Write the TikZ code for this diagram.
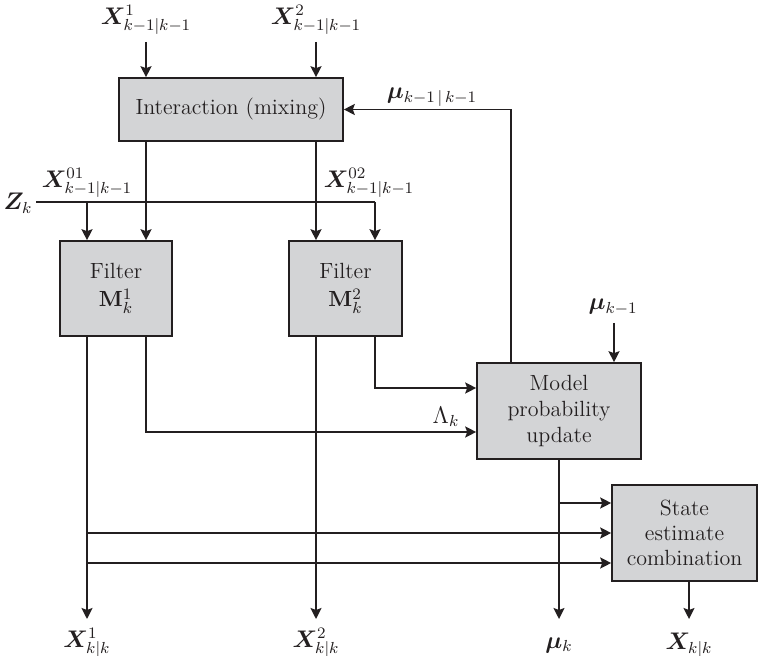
\documentclass[tikz,border=0pt]{standalone}
\usepackage{bm}
\usetikzlibrary{arrows.meta,calc}
\definecolor{boxgray}{HTML}{D3D4D6}
\definecolor{ink}{HTML}{231F20}
\begin{document}
\begin{tikzpicture}[x=0.5pt,y=-0.5pt,
  every node/.style={font=\fontsize{11}{13}\selectfont, text=ink},
  blk/.style={draw=ink, fill=boxgray, line width=0.8pt, inner sep=0pt, align=center},
  arr/.style={draw=ink, line width=0.9pt, -{Stealth[length=5.5pt,width=5.5pt,inset=1pt]}},
  ln/.style={draw=ink, line width=0.9pt},
  mlbl/.style={font=\fontsize{11.5}{13}\selectfont, inner sep=1pt}]
\useasboundingbox (0,0) rectangle (758,656);

% blocks
\node[blk, minimum width=112pt, minimum height=31.5pt] (inter) at (231,109.5) {Interaction (mixing)};
\node[blk, minimum width=56pt, minimum height=47.5pt, font=\fontsize{11}{14}\selectfont] (f1) at (116,288.5) {Filter\\$\mathbf{M}^1_k$};
\node[blk, minimum width=56.5pt, minimum height=47.5pt, font=\fontsize{11}{14}\selectfont] (f2) at (345.5,288.5) {Filter\\$\mathbf{M}^2_k$};
\node[blk, minimum width=82pt, minimum height=48pt] (mpu) at (559,411) {Model\\probability\\update};
\node[blk, minimum width=72.5pt, minimum height=48pt, font=\fontsize{11}{12.5}\selectfont] (sec) at (684.5,533) {State\\estimate\\combination};

% labels
\node[mlbl] (x1in) at (146,20) {$\bm{X}^1_{k-1|k-1}$};
\node[mlbl] (x2in) at (316,20) {$\bm{X}^2_{k-1|k-1}$};
\node[mlbl] (x01) at (87,183) {$\bm{X}^{01}_{k-1|k-1}$};
\node[mlbl] (x02) at (369,183) {$\bm{X}^{02}_{k-1|k-1}$};
\node[mlbl] (zk) at (18,203) {$\bm{Z}_k$};
\node[mlbl] (mufb) at (432,97) {$\bm{\mu}_{k-1\,|\,k-1}$};
\node[mlbl] (mukm1) at (613,307) {$\bm{\mu}_{k-1}$};
\node[mlbl] (lam) at (446,417) {$\Lambda_k$};
\node[mlbl] (x1out) at (87,643) {$\bm{X}^1_{k|k}$};
\node[mlbl] (x2out) at (316,643) {$\bm{X}^2_{k|k}$};
\node[mlbl] (muk) at (559,645) {$\bm{\mu}_k$};
\node[mlbl] (xkk) at (689,645) {$\bm{X}_{k|k}$};

% coordinates
\coordinate (a1) at (146,42);
\coordinate (a2) at (316,42);
\coordinate (z0) at (36,202);
\coordinate (z1) at (375,202);
\coordinate (zb) at (87,202);
\coordinate (fb) at (511,109.5);
\coordinate (m1) at (614,323);
\coordinate (c2) at (375,388);
\coordinate (c1) at (146,432);
\coordinate (o1) at (87,619);
\coordinate (o2) at (316,619);
\coordinate (o3) at (559,619);
\coordinate (o4) at (689,619);
\coordinate (h1) at (87,533);
\coordinate (h2) at (87,563);
\coordinate (h3) at (559,503);

% connectors
\draw[arr] (a1) -- (a1 |- inter.north);
\draw[arr] (a2) -- (a2 |- inter.north);
\draw[arr] (inter.south -| a1) -- (a1 |- f1.north);
\draw[arr] (inter.south -| a2) -- (a2 |- f2.north);
\draw[ln] (z0) -- (z1);
\draw[arr] (z1) -- (z1 |- f2.north);
\draw[arr] (zb) -- (zb |- f1.north);
\draw[arr] (mpu.north -| fb) -- (fb) -- (fb -| inter.east);
\draw[arr] (m1) -- (m1 |- mpu.north);
\draw[arr] (f2.south -| c2) -- (c2) -- (c2 -| mpu.west);
\draw[arr] (f1.south -| c1) -- (c1) -- (c1 -| mpu.west);
\draw[arr] (f1.south -| o1) -- (o1);
\draw[arr] (h1) -- (h1 -| sec.west);
\draw[arr] (h2) -- (h2 -| sec.west);
\draw[arr] (f2.south -| o2) -- (o2);
\draw[arr] (mpu.south -| o3) -- (o3);
\draw[arr] (h3) -- (h3 -| sec.west);
\draw[arr] (sec.south -| o4) -- (o4);
\end{tikzpicture}
\end{document}
